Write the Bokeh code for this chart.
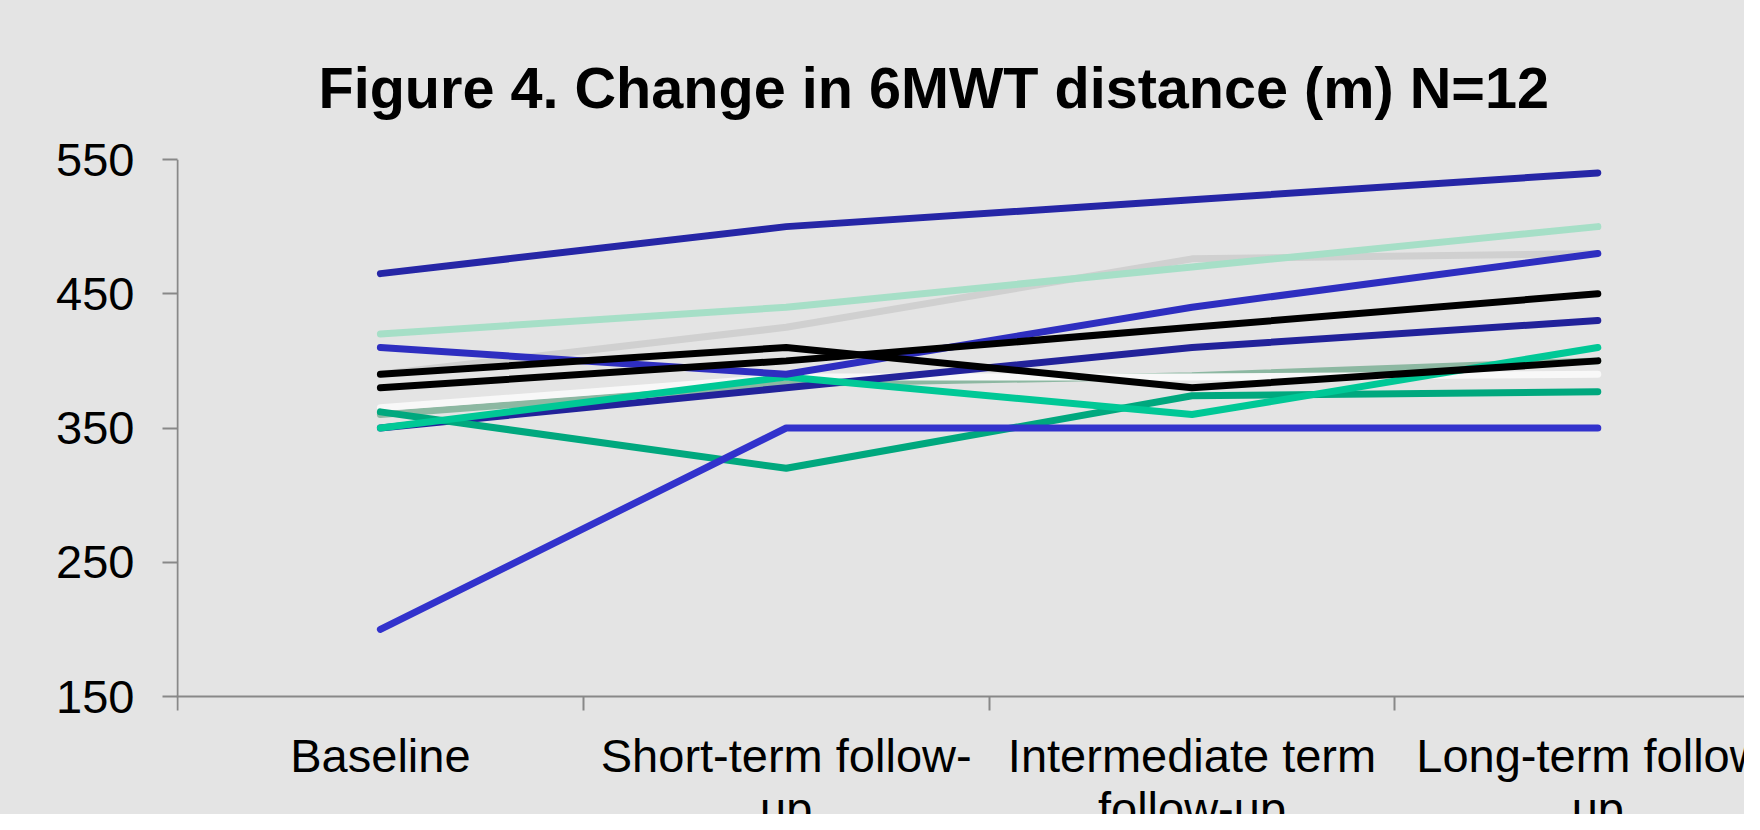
from bokeh.plotting import figure
from bokeh.models import Range1d, FixedTicker
from bokeh.core.properties import value
from bokeh.embed import file_html
from bokeh.resources import INLINE

# ---- data ----
categories = ["Baseline", "Short-term follow-\nup", "Intermediate term\nfollow-up", "Long-term follow-\nup"]
y_ticks = [150, 250, 350, 450, 550]

p_gray = [390, 425, 476, 480]
p_mint = [420, 440, 470, 500]
p_sage = [360, 383, 389, 400]
p_white = [365, 388, 388, 390]
p_navy_top = [465, 500, 520, 540]
p_navy = [350, 380, 410, 430]
p_green = [362, 320, 374, 377]
p_teal = [350, 388, 360, 410]
p_blue = [410, 390, 440, 480]
p_black_b = [380, 400, 425, 450]
p_black_a = [390, 410, 380, 400]
p_blue_bright = [200, 350, 350, 350]

series = [
    (p_gray, "#d0d0d0"),
    (p_mint, "#a6dfc7"),
    (p_sage, "#8db8a2"),
    (p_white, "#f8f8f8"),
    (p_navy_top, "#2626a6"),
    (p_navy, "#22229a"),
    (p_green, "#00a87e"),
    (p_teal, "#00c896"),
    (p_blue, "#2e2ec0"),
    (p_black_b, "#000000"),
    (p_black_a, "#000000"),
    (p_blue_bright, "#3232cc"),
]

# ---- layout constants ----
W, H = 1744, 814
LEFT, TOP = 176, 159
PLOT_H = 537            # pixel height of the 150..550 value band
CAT_PX = 405.8          # pixel width of one category band
ROW1_PX, ROW2_PX = 59, 112   # category label rows below the axis
frame_w = W - LEFT
frame_h = H - TOP
y_lo, y_hi = y_ticks[0], y_ticks[-1]
px_per_unit = PLOT_H / (y_hi - y_lo)
x_start = -0.5 - 1.0 / CAT_PX

BG = "#e4e4e4"
AX = "#888888"
FONT = "Liberation Sans"

p = figure(width=W, height=H, output_backend="svg", toolbar_location=None,
           x_range=Range1d(x_start, x_start + frame_w / CAT_PX),
           y_range=Range1d(y_hi - frame_h / px_per_unit, y_hi),
           min_border_left=LEFT, min_border_right=0,
           min_border_top=TOP, min_border_bottom=0)

p.styles = {"background-color": BG}
p.background_fill_color = BG
p.border_fill_color = BG
p.outline_line_color = None
p.xgrid.visible = False
p.ygrid.visible = False

p.title.text = "Figure 4. Change in 6MWT distance (m) N=12"
p.title.text_font = FONT
p.title.text_font_style = "bold"
p.title.text_font_size = "57.6px"
p.title.text_color = "#000000"
p.title.align = "left"
p.title.offset = 142
p.title.standoff = 79

xs = list(range(len(categories)))

# value axis line only across the 150..550 band
p.segment(x0=[-0.5], y0=[y_lo], x1=[-0.5], y1=[y_hi], line_color=AX, line_width=2)

for vals, col in series:
    p.line(xs, vals, line_width=7, line_color=col, line_cap="round")

# y axis
ya = p.yaxis[0]
ya.ticker = FixedTicker(ticks=y_ticks)
ya.axis_line_color = None
ya.major_tick_line_color = AX
ya.major_tick_line_width = 2
ya.major_tick_out = 14
ya.major_tick_in = 1
ya.minor_tick_line_color = None
ya.major_label_text_font = FONT
ya.major_label_text_font_size = "47px"
ya.major_label_text_color = "#000000"
ya.major_label_standoff = 28

# x axis pinned at the bottom of the value band (line + boundary ticks)
xa = p.xaxis[0]
xa.fixed_location = y_lo
xa.ticker = FixedTicker(ticks=xs, minor_ticks=[x - 0.5 for x in xs] + [xs[-1] + 0.5])
xa.major_label_overrides = {x: "" for x in xs}
xa.axis_line_color = AX
xa.axis_line_width = 2
xa.major_tick_out = 0
xa.major_tick_in = 0
xa.major_tick_line_color = None
xa.minor_tick_line_color = AX
xa.minor_tick_line_width = 2
xa.minor_tick_out = 14
xa.minor_tick_in = 0

# category labels, two rows, centred under each category
row1 = [c.split("\n")[0] for c in categories]
row2 = [c.split("\n")[1] if "\n" in c else "" for c in categories]
for texts, off in ((row1, ROW1_PX), (row2, ROW2_PX)):
    p.text(x=xs, y=[y_lo - off / px_per_unit] * len(xs), text=texts,
           text_font=value(FONT), text_font_size=value("47px"),
           text_color="#000000", text_align="center", text_baseline="alphabetic")

open("out.html", "w").write(file_html(p, INLINE))
